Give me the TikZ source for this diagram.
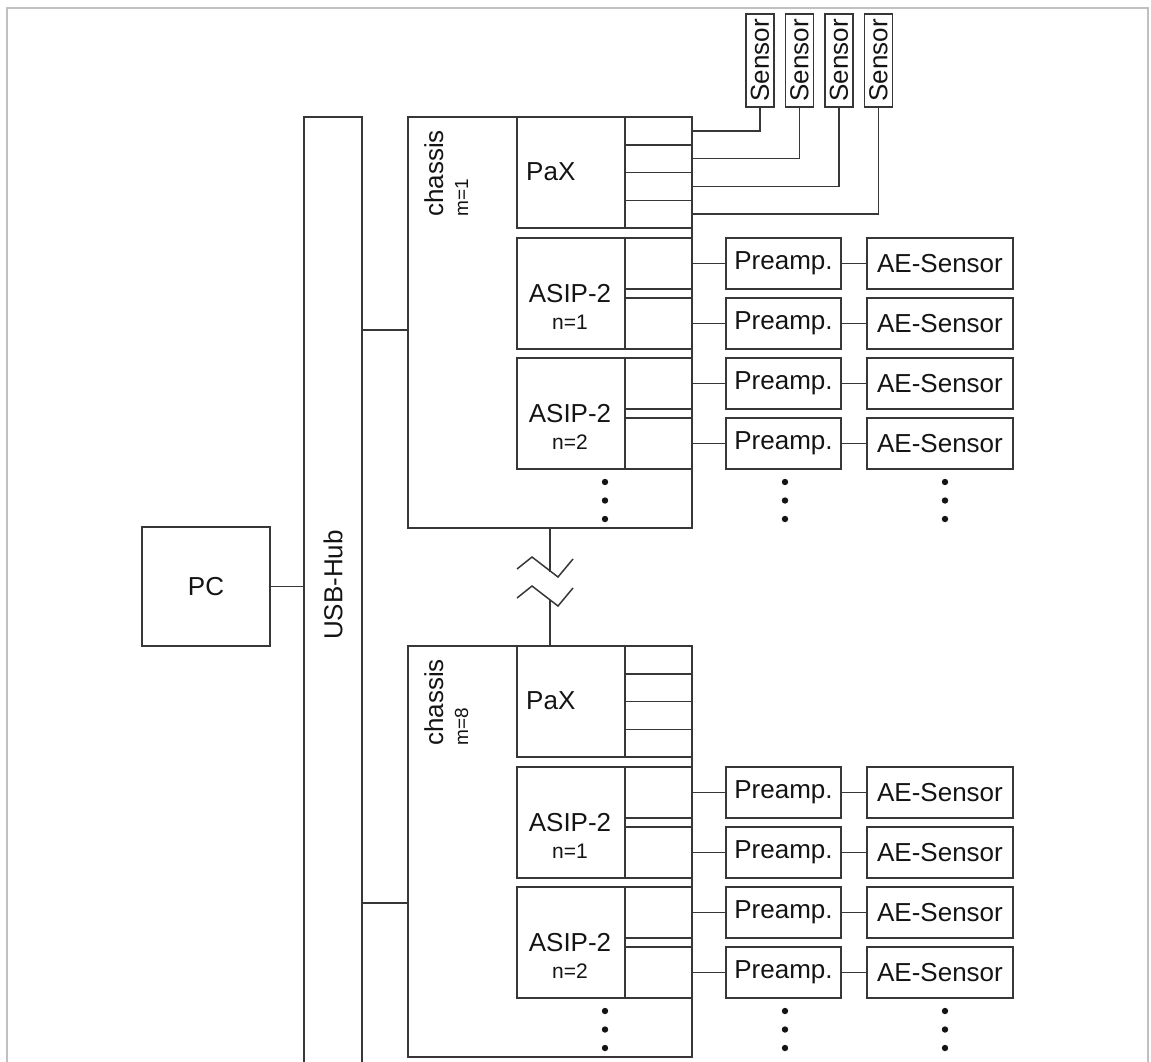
\documentclass[tikz,border=0pt]{standalone}
\usepackage{fontspec}
\setmainfont{Liberation Sans}
\definecolor{linec}{RGB}{55,55,55}
\definecolor{txtc}{RGB}{20,20,20}
\definecolor{framec}{RGB}{192,192,192}
\newcommand{\bigtxt}{\fontsize{26}{30}\selectfont}
\newcommand{\smalltxt}{\fontsize{19}{22}\selectfont}
\newcommand{\midtxt}{\fontsize{21}{24}\selectfont}
\begin{document}
\begin{tikzpicture}[x=1pt,y=-1pt,
  lc/.style={draw=linec, line width=1.5pt},
  box/.style={lc, rectangle, inner sep=0pt, text=txtc, font=\bigtxt},
  lbl/.style={inner sep=0pt, text=txtc, font=\bigtxt},
  slbl/.style={inner sep=0pt, text=txtc, font=\smalltxt},
  nlbl/.style={inner sep=0pt, text=txtc, font=\midtxt}]
\useasboundingbox (0,0) rectangle (1151,1061);
% outer frame (open at the bottom)
\draw[framec, line width=2pt] (7,1070) -- (7,8) -- (1148,8) -- (1148,1070);

% PC and USB hub
\node[box, minimum width=128pt, minimum height=119pt] (pc) at (206,586.5) {PC};
\node[box, minimum width=58pt, minimum height=960pt] (usb) at (333,597) {};
\node[lbl, rotate=90] (usbt) at (333,585) {USB-Hub};
\draw[lc] (pc.east) -- (usb.west |- pc.east);

% two chassis
\foreach \m/\o/\hy in {1/0/330, 8/529/903}{
  \node[box, minimum width=284pt, minimum height=411pt] (ch\m) at (550,322.5+\o) {};
  \node[lbl, rotate=90, anchor=base west] (cht\m) at (443,217+\o) {chassis};
  \node[slbl, rotate=90, anchor=base west] (chm\m) at (468,217+\o) {m=\m};
  \coordinate (j\m) at (385,\hy);
  \draw[lc] (usb.east |- j\m) -- (ch\m.west |- j\m);
  % PaX module
  \node[box, minimum width=108pt, minimum height=111pt] (pax\m) at (571,172.5+\o) {};
  \node[lbl, anchor=base west] (paxt\m) at (526,180+\o) {PaX};
  \foreach \k in {1,2,3,4}{
    \node[box, minimum width=67pt, minimum height=27.75pt] (pxc\m-\k) at (658.5,103.125+27.75*\k+\o) {};
  }
  % ASIP-2 modules
  \foreach \n/\d in {1/0, 2/120}{
    \node[box, minimum width=108pt, minimum height=111pt] (asip\m-\n) at (571,293.5+\d+\o) {};
    \node[lbl, anchor=base] (asipt\m-\n) at (570,302+\d+\o) {ASIP-2};
    \node[nlbl, anchor=base] (asipn\m-\n) at (570,329+\d+\o) {n=\n};
    \foreach \r/\ry in {a/263.5, b/323.5}{
      \node[box, minimum width=67pt, minimum height=51pt] (ac\m-\n-\r) at (658.5,\ry+\d+\o) {};
      \node[box, minimum width=115pt, minimum height=51pt] (pre\m-\n-\r) at (783.5,\ry+\d+\o) {Preamp.};
      \node[box, minimum width=146pt, minimum height=51pt] (ae\m-\n-\r) at (940,\ry+\d+\o) {AE-Sensor};
      \draw[lc] (ac\m-\n-\r.east) -- (pre\m-\n-\r.west);
      \draw[lc] (pre\m-\n-\r.east) -- (ae\m-\n-\r.west);
    }
  }
  % continuation dots
  \foreach \xx in {605,785,945}{
    \foreach \yy in {482,500.5,519}{
      \fill[txtc] (\xx,\yy+\o) circle[radius=3.2pt];
    }
  }
}

% break between the chassis
\coordinate (z1) at (550,571.5);
\coordinate (z2) at (550,600);
\draw[lc] (ch1.south) -- (z1);
\draw[lc] (z2) -- (ch8.north);
\draw[lc] (517,569) -- (532,557) -- (558,577) -- (573,559);
\draw[lc] (517,598) -- (532,586) -- (558,606) -- (573,588);

% sensors of the first PaX
\foreach \i/\sx in {1/760, 2/799.5, 3/839, 4/878.5}{
  \node[box, rotate=90, minimum width=93pt, minimum height=28pt] (sen\i) at (\sx,60.5) {Sensor};
  \draw[lc] (sen\i.west) |- (pxc1-\i.east);
}
\end{tikzpicture}
\end{document}
